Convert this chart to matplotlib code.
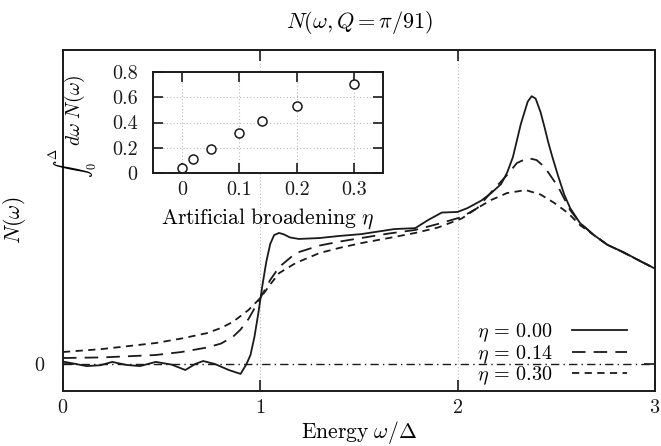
import numpy as np
import matplotlib
matplotlib.use("Agg")
import matplotlib.pyplot as plt

plt.rcParams['font.family'] = 'serif'
plt.rcParams['font.serif'] = ['cmr10']
plt.rcParams['mathtext.fontset'] = 'cm'
plt.rcParams['axes.formatter.use_mathtext'] = True
plt.rcParams['font.size'] = 14.5

# main curves, N(omega) for three broadenings
x_00 = [0.00, 0.05, 0.12, 0.19, 0.25, 0.32, 0.39, 0.47, 0.55, 0.62, 0.67, 0.71,
        0.77, 0.84, 0.90, 0.93, 0.95, 0.97, 0.99, 1.01, 1.03, 1.05, 1.07, 1.095,
        1.12, 1.15, 1.195, 1.30, 1.40, 1.51, 1.60, 1.68, 1.785, 1.85, 1.92, 2.00,
        2.05, 2.12, 2.17, 2.22, 2.25, 2.28, 2.32, 2.355, 2.375, 2.395, 2.42, 2.44,
        2.46, 2.48, 2.51, 2.54, 2.57, 2.62, 2.69, 2.76, 2.84, 2.92, 3.00]
y_00 = [0.008, 0.002, -0.007, -0.004, 0.007, -0.003, -0.007, 0.007, -0.002, -0.02,
        0.0, 0.01, 0.0, -0.02, -0.033, 0.0, 0.03, 0.09, 0.17, 0.26, 0.34, 0.40,
        0.43, 0.437, 0.432, 0.422, 0.417, 0.42, 0.427, 0.433, 0.442, 0.45, 0.453,
        0.48, 0.505, 0.507, 0.52, 0.545, 0.57, 0.60, 0.637, 0.69, 0.80, 0.875,
        0.893, 0.885, 0.84, 0.79, 0.737, 0.69, 0.625, 0.565, 0.52, 0.47, 0.43,
        0.397, 0.373, 0.345, 0.318]

x_14 = [0.00, 0.20, 0.47, 0.60, 0.73, 0.80, 0.86, 0.90, 0.94, 0.97, 1.00, 1.05,
        1.095, 1.18, 1.30, 1.40, 1.51, 1.65, 1.785, 1.90, 2.02, 2.10, 2.17, 2.25,
        2.30, 2.355, 2.40, 2.44, 2.51, 2.57, 2.62, 2.69, 2.76, 2.84, 2.92, 3.00]
y_14 = [0.02, 0.022, 0.03, 0.04, 0.055, 0.068, 0.09, 0.115, 0.15, 0.185, 0.22,
        0.28, 0.323, 0.37, 0.395, 0.408, 0.42, 0.435, 0.447, 0.467, 0.49, 0.52,
        0.573, 0.63, 0.67, 0.687, 0.68, 0.657, 0.59, 0.513, 0.47, 0.43, 0.397,
        0.372, 0.345, 0.318]

x_30 = [0.00, 0.20, 0.47, 0.60, 0.73, 0.80, 0.86, 0.94, 1.00, 1.05, 1.095, 1.18,
        1.30, 1.40, 1.51, 1.65, 1.785, 1.90, 2.02, 2.10, 2.17, 2.25, 2.345, 2.42,
        2.49, 2.56, 2.62, 2.69, 2.76, 2.84, 2.92, 3.00]
y_30 = [0.04, 0.05, 0.07, 0.085, 0.103, 0.12, 0.14, 0.18, 0.22, 0.265, 0.303,
        0.337, 0.37, 0.387, 0.403, 0.42, 0.437, 0.455, 0.485, 0.52, 0.547, 0.57,
        0.58, 0.565, 0.537, 0.503, 0.463, 0.43, 0.397, 0.372, 0.345, 0.318]

# inset: integrated weight vs broadening
eta = [0.0, 0.02, 0.05, 0.10, 0.14, 0.20, 0.30]
weight = [0.04, 0.107, 0.189, 0.319, 0.41, 0.532, 0.705]
weight_err = [0.03, 0.0, 0.0, 0.0, 0.0, 0.0, 0.0]

ink = '#1a1a1a'
W, H = 661, 446
fig = plt.figure(figsize=(W / 100, H / 100), dpi=100)

def box(l, t, r, b):
    # pixel box -> figure fraction
    return [l / W, (H - b) / H, (r - l) / W, (b - t) / H]

ax = fig.add_axes(box(63, 50, 655, 391))

ax.axhline(0, color=ink, lw=1.0, dashes=(6, 3, 1, 3))
ax.plot(x_00, y_00, color=ink, lw=1.3, label=r'$\eta\,=\,0.00$')
ax.plot(x_14, y_14, color=ink, lw=1.3, dashes=(7.5, 4.5), label=r'$\eta\,=\,0.14$')
ax.plot(x_30, y_30, color=ink, lw=1.3, dashes=(4, 3), label=r'$\eta\,=\,0.30$')

ax.set_xlim(0, 3)
ax.set_ylim(-0.09, 1.047)
ax.set_xticks([0, 1, 2, 3])
ax.set_yticks([0])
ax.tick_params(direction='in', length=8, width=1.2, top=True, right=True,
               colors=ink)
ax.tick_params(axis='x', pad=6)
ax.tick_params(axis='y', pad=13)
for s in ax.spines.values():
    s.set_linewidth(1.4)
    s.set_color(ink)
for xv in [1, 2]:
    ax.axvline(xv, color='#bbbbbb', lw=0.8, ls=(0, (1, 2)), zorder=0)

leg = ax.legend(loc='lower right', bbox_to_anchor=(0.966, -0.012), frameon=False,
                markerfirst=False, handlelength=2.7, handletextpad=1.0,
                labelspacing=-0.05, borderaxespad=0, fontsize=14.5)

fig.text(360 / W, 1 - 23 / H, r'$N(\omega, Q = \pi/91)$', ha='center', va='center', fontsize=16)
fig.text(359 / W, 1 - 433 / H, r'$\mathrm{Energy}\ \omega/\Delta$', ha='center', va='center', fontsize=15.5)
fig.text(15 / W, 1 - 220 / H, r'$N(\omega)$', ha='center', va='center', rotation=90, fontsize=15.5)

# inset
ins = fig.add_axes(box(153, 72, 383, 173))
ins.errorbar(eta, weight, yerr=weight_err, fmt='o', mfc='white', mec=ink,
             ecolor=ink, ms=6.5, mew=1.1, elinewidth=1.0, capsize=0)
ins.set_xlim(-0.05, 0.35)
ins.set_ylim(0, 0.8)
ins.set_xticks([0, 0.1, 0.2, 0.3])
ins.set_xticklabels(['0', '0.1', '0.2', '0.3'])
ins.set_yticks([0, 0.2, 0.4, 0.6, 0.8])
ins.set_yticklabels(['0', '0.2', '0.4', '0.6', '0.8'])
ins.tick_params(direction='in', length=7, width=1.2, top=True, right=True,
                colors=ink)
ins.tick_params(axis='x', pad=6)
ins.tick_params(axis='y', pad=11)
ins.grid(True, color='#bbbbbb', lw=0.8, ls=(0, (1, 2)))
for s in ins.spines.values():
    s.set_linewidth(1.4)
    s.set_color(ink)
fig.text(268 / W, 1 - 219 / H, r'$\mathrm{Artificial\ broadening}\ \eta$',
         ha='center', va='center', fontsize=15.5)
# inset y label: integral sign drawn smaller, as in the reference
fig.text(75 / W, 1 - 146 / H, r'$d\omega\ N(\omega)$', ha='center', va='bottom',
         rotation=90, fontsize=14)
fig.text(73 / W, 1 - 148 / H, r'$\int_0^\Delta$', ha='center', va='top',
         rotation=90, fontsize=12.5)

fig.savefig('out.png', dpi=100)
